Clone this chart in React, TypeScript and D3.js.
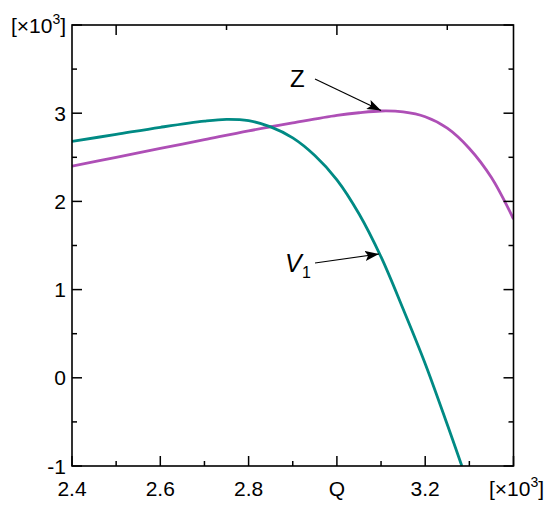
import React from "react";
import * as d3 from "d3";

const qV1 = [2.4, 2.5, 2.6, 2.7, 2.75, 2.8, 2.85, 2.9, 2.95, 3.0, 3.05, 3.1, 3.15, 3.2, 3.25, 3.283];
const v1 = [2.68, 2.76, 2.84, 2.91, 2.93, 2.915, 2.845, 2.72, 2.52, 2.245, 1.86, 1.37, 0.78, 0.16, -0.53, -1.0];
const qZ = [2.4, 2.5, 2.6, 2.7, 2.8, 2.9, 3.0, 3.05, 3.1, 3.15, 3.2, 3.25, 3.3, 3.35, 3.4];
const z = [2.4, 2.5, 2.6, 2.7, 2.8, 2.89, 2.975, 3.005, 3.025, 3.015, 2.96, 2.83, 2.6, 2.27, 1.8];

const xMajor = [2.4, 2.6, 2.8, 3.0, 3.2, 3.4];
const xMinor = [2.5, 2.7, 2.9, 3.1, 3.3];
const xLabels = ["2.4", "2.6", "2.8", "Q", "3.2"];
const topMajor = [2.5, 3.0];
const topMinor = [2.75, 3.25];
const yMajor = [-1, 0, 1, 2, 3, 4];
const yMinor = [-0.5, 0.5, 1.5, 2.5, 3.5];
const yLabels = ["-1", "0", "1", "2", "3"];

const W = 550, H = 506;
const L = 72, R = 513.5, T = 25, B = 466;
const FONT = "Arial, 'Liberation Sans', Helvetica, sans-serif";
const TEAL = "#008a84";
const PURPLE = "#ae4fb6";

export default function App() {
  const x = d3.scaleLinear().domain([2.4, 3.4]).range([L, R]);
  const y = d3.scaleLinear().domain([-1, 4]).range([B, T]);
  const line = d3.line<[number, number]>().x(d => x(d[0])).y(d => y(d[1])).curve(d3.curveCatmullRom.alpha(0.5));
  const v1Path = line(qV1.map((q, i) => [q, v1[i]] as [number, number])) || "";
  const zPath = line(qZ.map((q, i) => [q, z[i]] as [number, number])) || "";
  const major = 10, minor = 5;

  return (
    <svg width={W} height={H} style={{ position: "absolute", left: 0, top: 0, background: "#fff" }} fontFamily={FONT}>
      <defs>
        <marker id="ah" viewBox="0 0 14 10" refX="14" refY="5" markerWidth="14" markerHeight="10" markerUnits="userSpaceOnUse" orient="auto">
          <path d="M0,0 L14,5 L0,10 L3,5 Z" fill="#000" />
        </marker>
        <clipPath id="plot"><rect x={L} y={T} width={R - L} height={B - T} /></clipPath>
      </defs>
      <g clipPath="url(#plot)">
        <path d={zPath} fill="none" stroke={PURPLE} strokeWidth={2.8} />
        <path d={v1Path} fill="none" stroke={TEAL} strokeWidth={2.8} />
      </g>
      <rect x={L} y={T} width={R - L} height={B - T} fill="none" stroke="#000" strokeWidth={1.6} />
      {xMajor.map(v => <line key={"xM" + v} x1={x(v)} x2={x(v)} y1={B} y2={B - major} stroke="#000" strokeWidth={1.5} />)}
      {xMinor.map(v => <line key={"xm" + v} x1={x(v)} x2={x(v)} y1={B} y2={B - minor} stroke="#000" strokeWidth={1.5} />)}
      {topMajor.map(v => <line key={"tM" + v} x1={x(v)} x2={x(v)} y1={T} y2={T + major} stroke="#000" strokeWidth={1.5} />)}
      {topMinor.map(v => <line key={"tm" + v} x1={x(v)} x2={x(v)} y1={T} y2={T + minor} stroke="#000" strokeWidth={1.5} />)}
      {yMajor.map(v => (
        <g key={"yM" + v}>
          <line x1={L} x2={L + major} y1={y(v)} y2={y(v)} stroke="#000" strokeWidth={1.5} />
          <line x1={R} x2={R - major} y1={y(v)} y2={y(v)} stroke="#000" strokeWidth={1.5} />
        </g>
      ))}
      {yMinor.map(v => (
        <g key={"ym" + v}>
          <line x1={L} x2={L + minor} y1={y(v)} y2={y(v)} stroke="#000" strokeWidth={1.5} />
          <line x1={R} x2={R - minor} y1={y(v)} y2={y(v)} stroke="#000" strokeWidth={1.5} />
        </g>
      ))}
      {xLabels.map((t, i) => (
        <text key={"xl" + t} x={x(xMajor[i])} y={496} fontSize={21} textAnchor="middle" fill="#000">{t}</text>
      ))}
      {yLabels.map((t, i) => (
        <text key={"yl" + t} x={66} y={y(yMajor[i]) + 7.5} fontSize={21} textAnchor="end" fill="#000">{t}</text>
      ))}
      <text x={489} y={496} fontSize={21} fill="#000">[×10<tspan fontSize={14} dy={-9}>3</tspan><tspan dy={9}>]</tspan></text>
      <text x={11} y={33} fontSize={21} fill="#000">[×10<tspan fontSize={14} dy={-9}>3</tspan><tspan dy={9}>]</tspan></text>
      <text x={290} y={87} fontSize={24} fontStyle="normal" fill="#000">Z</text>
      <line x1={315} y1={79} x2={x(3.1)} y2={y(3.03)} stroke="#000" strokeWidth={1.2} markerEnd="url(#ah)" />
      <text x={285} y={272} fontSize={25} fontStyle="italic" fill="#000">V</text>
      <text x={302} y={278} fontSize={16} fill="#000">1</text>
      <line x1={315} y1={263} x2={379} y2={254} stroke="#000" strokeWidth={1.2} markerEnd="url(#ah)" />
    </svg>
  );
}
